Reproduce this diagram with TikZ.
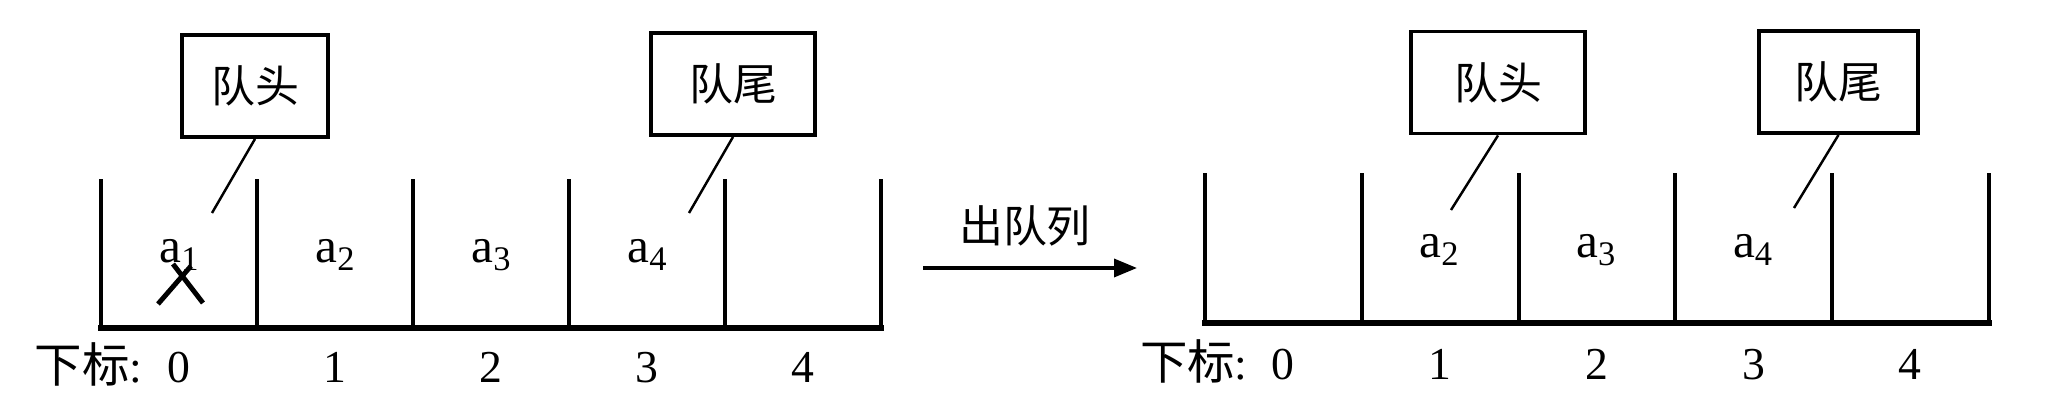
\documentclass[tikz,border=0pt]{standalone}
\usepackage{fontspec}
\setmainfont{Liberation Serif}
\newfontfamily\cjk{Noto Sans CJK SC}
\usetikzlibrary{arrows.meta}

\begin{document}
\begin{tikzpicture}
    [wall/.style = {line width=1.1pt},
    floor/.style = {line width=1.7pt, line cap=rect},
    tag/.style = {draw, line width=1.1pt,
                minimum height=1.02cm, inner sep=0pt,
                font=\cjk\fontsize{12.5}{14}\selectfont},
    elem/.style = {anchor=base, font=\fontsize{14}{16}\selectfont},
    idx/.style = {anchor=base, font=\fontsize{13}{15}\selectfont},
    pointer/.style = {line width=0.7pt}]
    \useasboundingbox (0,0) rectangle (20.47,4.16);
    % Cola antes de salir
    \foreach \x in {0,...,5}
        \draw[wall] (1.01+1.56*\x,0.88) -- (1.01+1.56*\x,2.37);
    \draw[floor] (1.01,0.88) -- (8.81,0.88);
    \foreach \i/\c in {1/0,2/1,3/2,4/3}
        \node[elem] (aL\i) at (1.80+1.56*\c,1.53) {a\textsubscript{\i}};
    % Tachado
    \draw[line width=1.4pt] (1.58,1.12) -- (1.91,1.50);
    \draw[line width=1.4pt] (1.73,1.52) -- (2.03,1.13);
    % Subíndices
    \node[idx, anchor=base east] (subL) at (1.55,0.33) {{\cjk\fontsize{13.5}{15}\selectfont 下标}:};
    \foreach \i in {0,...,4}
        \node[idx] (iL\i) at (1.79+1.56*\i,0.33) {\i};
    % Cabeza y cola
    \node[tag, minimum width=1.46cm] (headL) at (2.55,3.30) {队头};
    \node[tag, minimum width=1.64cm] (tailL) at (7.33,3.32) {队尾};
    \coordinate (headLp) at (2.12,2.03);
    \coordinate (tailLp) at (6.89,2.03);
    \draw[pointer] (headL.south) -- (headLp);
    \draw[pointer] (tailL.south) -- (tailLp);
    % Flecha
    \coordinate (outS) at (9.23,1.48);
    \coordinate (outE) at (11.37,1.48);
    \draw[line width=1pt, -{Triangle[length=0.23cm,width=0.18cm]}] (outS) -- (outE);
    \node[font=\cjk\fontsize{12.5}{14}\selectfont] (deq) at (10.25,1.90) {出队列};
    % Cola después de salir
    \foreach \x in {0,...,5}
        \draw[wall] (12.05+1.568*\x,0.93) -- (12.05+1.568*\x,2.43);
    \draw[floor] (12.05,0.93) -- (19.89,0.93);
    \foreach \i/\c in {2/1,3/2,4/3}
        \node[elem] (aR\i) at (12.83+1.568*\c,1.58) {a\textsubscript{\i}};
    \node[idx, anchor=base east] (subR) at (12.60,0.36) {{\cjk\fontsize{13.5}{15}\selectfont 下标}:};
    \foreach \i in {0,...,4}
        \node[idx] (iR\i) at (12.83+1.568*\i,0.36) {\i};
    \node[tag, minimum width=1.74cm] (headR) at (14.98,3.335) {队头};
    \node[tag, minimum width=1.59cm] (tailR) at (18.385,3.34) {队尾};
    \coordinate (headRp) at (14.51,2.06);
    \coordinate (tailRp) at (17.94,2.08);
    \draw[pointer] (headR.south) -- (headRp);
    \draw[pointer] (tailR.south) -- (tailRp);
\end{tikzpicture}
\end{document}
